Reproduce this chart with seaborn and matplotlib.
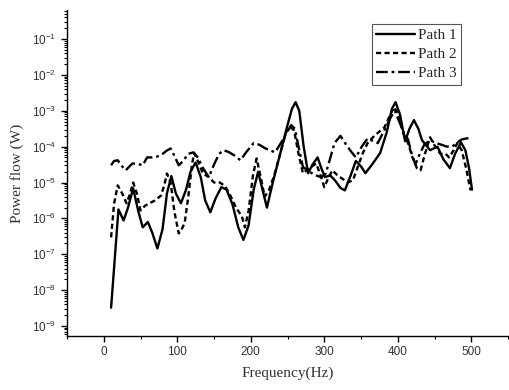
import numpy as np
import pandas as pd
import matplotlib
matplotlib.use("Agg")
import matplotlib.pyplot as plt
import seaborn as sns
from matplotlib.ticker import LogLocator, FixedLocator, MultipleLocator

# ---- data (power flow given as log10 of W) ----
path1_freq = [10, 20, 27, 33, 40, 47, 53, 60, 66, 73, 80, 86, 92, 98, 105, 112, 118, 125,
              132, 138, 145, 152, 160, 167, 175, 183, 190, 197, 204, 210, 216, 222, 230,
              240, 250, 256, 261, 266, 272, 278, 284, 291, 296, 301, 308, 315, 322, 328,
              336, 343, 350, 356, 365, 376, 385, 392, 397, 403, 410, 416, 422, 428, 433,
              444, 454, 462, 471, 478, 486, 492, 497, 501]
path1_log = [-8.49, -5.75, -6.06, -5.7, -5.16, -5.8, -6.25, -6.1, -6.4, -6.84, -6.3, -5.3,
             -4.82, -5.3, -5.58, -5.2, -4.7, -4.44, -4.85, -5.5, -5.83, -5.45, -5.13, -5.2,
             -5.6, -6.25, -6.6, -6.2, -5.2, -4.7, -5.2, -5.7, -5.0, -4.2, -3.4, -2.95,
             -2.76, -3.0, -4.0, -4.74, -4.5, -4.3, -4.6, -4.85, -4.8, -4.95, -5.15, -5.22,
             -4.8, -4.4, -4.55, -4.74, -4.5, -4.18, -3.6, -2.95, -2.76, -3.1, -3.85, -3.5,
             -3.26, -3.5, -3.82, -4.1, -4.0, -4.35, -4.6, -4.2, -3.88, -4.1, -4.6, -5.2]

path2_freq = [10, 14, 19, 25, 31, 36, 40, 45, 50, 56, 62, 70, 78, 82, 86, 91, 96, 102, 106,
              110, 115, 120, 123, 128, 135, 143, 150, 158, 165, 172, 180, 188, 192, 197,
              203, 208, 213, 219, 225, 232, 240, 248, 254, 259, 265, 271, 280, 289, 295,
              300, 305, 311, 318, 325, 332, 339, 345, 352, 359, 368, 382, 390, 395, 401,
              407, 414, 420, 426, 431, 437, 444, 451, 458, 465, 470, 476, 481, 487, 493, 499]
path2_log = [-6.53, -5.6, -5.08, -5.3, -5.58, -5.3, -5.0, -5.3, -5.78, -5.65, -5.58, -5.5,
             -5.36, -5.1, -4.75, -5.0, -5.8, -6.42, -6.3, -6.14, -5.4, -4.5, -4.18, -4.4,
             -4.75, -4.85, -5.0, -5.0, -5.1, -5.35, -5.7, -5.95, -6.25, -5.8, -4.8, -4.33,
             -4.8, -5.4, -5.2, -4.8, -4.2, -3.6, -3.45, -3.55, -4.2, -4.74, -4.6, -4.47,
             -4.8, -5.13, -4.9, -4.66, -4.8, -4.9, -5.0, -4.94, -4.6, -4.2, -3.9, -3.7,
             -3.46, -3.1, -2.9, -3.1, -3.6, -3.9, -4.3, -4.6, -4.66, -4.2, -3.74, -4.0,
             -4.2, -4.2, -4.3, -4.1, -3.9, -4.1, -4.6, -5.22]

path3_freq = [10, 14, 19, 25, 30, 35, 39, 46, 53, 59, 66, 72, 78, 85, 91, 96, 102, 108, 115,
              122, 128, 135, 143, 150, 157, 163, 170, 178, 186, 194, 204, 212, 220, 226,
              233, 241, 248, 255, 260, 265, 271, 280, 288, 296, 302, 307, 314, 322, 330,
              337, 343, 351, 359, 367, 373, 379, 384, 390, 396, 402, 408, 414, 419, 424,
              430, 436, 444, 452, 460, 467, 474, 480, 487, 494, 500]
path3_log = [-4.52, -4.4, -4.38, -4.55, -4.66, -4.55, -4.47, -4.48, -4.52, -4.3, -4.3, -4.28,
             -4.24, -4.12, -4.05, -4.25, -4.52, -4.4, -4.2, -4.16, -4.3, -4.6, -4.85, -4.5,
             -4.2, -4.1, -4.15, -4.25, -4.38, -4.15, -3.9, -3.95, -4.05, -4.1, -4.16, -3.9,
             -3.65, -3.4, -3.5, -4.0, -4.57, -4.7, -4.8, -4.85, -4.75, -4.4, -3.9, -3.7,
             -3.95, -4.15, -4.3, -4.0, -3.77, -3.85, -3.9, -3.65, -3.46, -3.2, -3.0, -3.3,
             -3.6, -3.8, -4.2, -4.5, -4.2, -3.95, -3.82, -3.9, -3.95, -4.0, -4.0, -3.9,
             -3.8, -3.77, -3.75]

series_names = ["Path 1", "Path 2", "Path 3"]
x_ticks = [0, 100, 200, 300, 400, 500]

frames = []
for name, f, lg in zip(series_names,
                       [path1_freq, path2_freq, path3_freq],
                       [path1_log, path2_log, path3_log]):
    frames.append(pd.DataFrame({"freq": f, "power": np.power(10.0, lg), "Path": name}))
df = pd.concat(frames, ignore_index=True)

# ---- plot ----
sns.set_style("white")
plt.rcParams["font.family"] = ["Liberation Serif", "DejaVu Serif"]
plt.rcParams["mathtext.default"] = "regular"

fig = plt.figure(figsize=(5.09, 3.90), dpi=100)
ax = fig.add_axes([67 / 509, 1 - 336 / 390, 441 / 509, 326 / 390])

dashes = {"Path 1": "", "Path 2": (2.2, 1.4), "Path 3": (5, 1.6, 1.2, 1.6)}
sns.lineplot(data=df, x="freq", y="power", style="Path", dashes=dashes,
             color="black", linewidth=1.7, estimator=None, sort=True, ax=ax)

ax.set_yscale("log")
ax.set_ylim(10 ** -9.28, 10 ** -0.19)
ax.set_xlim(-50, 550)

ax.xaxis.set_major_locator(FixedLocator(x_ticks))
ax.xaxis.set_minor_locator(MultipleLocator(50))
ax.yaxis.set_major_locator(LogLocator(base=10, numticks=20))
ax.yaxis.set_minor_locator(LogLocator(base=10, subs=np.arange(2, 10), numticks=20))

for s in ["top", "right"]:
    ax.spines[s].set_visible(False)
for s in ["left", "bottom"]:
    ax.spines[s].set_color("black")
    ax.spines[s].set_linewidth(1.0)

ax.tick_params(axis="both", which="both", direction="out", color="black",
               bottom=True, left=True)
ax.tick_params(axis="both", which="major", length=4, width=1.0)
ax.tick_params(axis="both", which="minor", length=2.5, width=0.8)
ax.tick_params(axis="both", labelsize=8.5, labelcolor="#333333")
for lab in ax.get_xticklabels() + ax.get_yticklabels():
    lab.set_family(["Liberation Sans", "DejaVu Sans"])

ax.set_xlabel("Frequency(Hz)", fontsize=11, color="#333333", labelpad=6)
ax.set_ylabel("Power flow (W)", fontsize=11, color="#333333", labelpad=6)
ax.grid(False)

handles, labels = ax.get_legend_handles_labels()
leg = ax.legend(handles, labels, loc="upper right", bbox_to_anchor=(0.893, 0.957),
                frameon=True, fancybox=False, framealpha=1, edgecolor="#555555",
                fontsize=11, handlelength=2.5, handletextpad=0.2, borderpad=0.3,
                labelspacing=0.35, borderaxespad=0)
leg.get_frame().set_linewidth(0.8)

fig.savefig("out.png", dpi=100)
